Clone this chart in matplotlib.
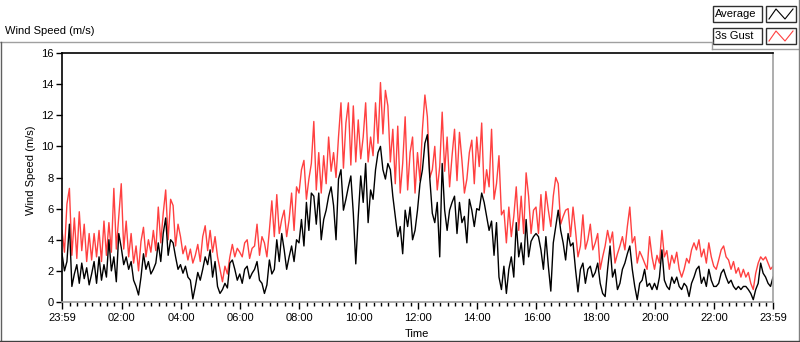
import numpy as np
import matplotlib
matplotlib.use("Agg")
import matplotlib.pyplot as plt
from matplotlib.lines import Line2D
from matplotlib.patches import Rectangle
from matplotlib.ticker import FixedLocator

# readings every 5 minutes from 23:59, one row per hour
gust = [
    4.6, 3.2, 6.3, 7.3, 3.0, 5.4, 2.8, 5.8, 3.3, 5.0, 2.6, 4.4,
    2.7, 4.4, 2.9, 4.6, 2.6, 5.2, 3.0, 5.1, 3.2, 7.3, 3.4, 5.5,
    7.6, 3.4, 5.2, 2.9, 4.4, 2.5, 3.6, 2.0, 3.9, 4.8, 2.9, 4.0,
    3.2, 4.6, 3.3, 6.1, 3.8, 5.7, 7.2, 4.0, 6.6, 6.2, 3.6, 5.0,
    4.2, 3.1, 3.6, 2.7, 3.4, 2.5, 3.0, 3.7, 2.6, 4.2, 4.9, 3.3,
    4.6, 3.2, 4.2, 2.9, 2.1, 1.3, 2.3, 1.8, 2.9, 3.7, 2.9, 3.45,
    3.2, 2.9, 3.8, 4.0, 2.8, 3.45, 3.6, 5.0, 3.0, 4.2, 3.8, 2.9,
    4.6, 6.5, 4.2, 6.9, 4.4, 5.3, 5.9, 4.2, 5.3, 7.0, 4.6, 7.4,
    7.0, 8.5, 9.1, 6.6, 7.9, 8.9, 11.6, 7.2, 9.6, 7.0, 9.4, 7.6,
    10.6, 8.4, 9.6, 8.0, 10.6, 12.8, 8.6, 11.5, 12.8, 8.8, 12.6, 9.0,
    11.7, 9.2, 10.6, 12.8, 9.0, 10.6, 9.4, 12.8, 10.2, 14.1, 10.8, 13.6,
    12.6, 9.0, 11.1, 7.6, 11.3, 7.0, 8.9, 11.9, 7.2, 9.6, 10.6, 7.0,
    9.6, 7.8, 11.1, 13.3, 11.9, 8.0, 8.5, 10.0, 7.2, 8.7, 12.2, 8.4,
    10.6, 7.4, 9.4, 11.1, 7.8, 10.9, 9.1, 7.0, 7.9, 9.6, 10.4, 7.6,
    10.6, 8.7, 11.5, 7.0, 8.5, 7.4, 11.1, 6.6, 7.6, 9.4, 5.6, 5.9,
    3.8, 6.1, 4.2, 5.5, 7.4, 4.6, 6.8, 4.4, 8.3, 6.8, 4.4, 5.9,
    6.1, 4.4, 6.9, 4.6, 7.1, 5.9, 4.85, 6.8, 8.0, 7.6, 5.0, 5.5,
    5.9, 6.0, 4.2, 6.1, 4.6, 2.9, 3.6, 5.6, 3.4, 4.0, 5.0, 3.35,
    3.8, 4.4, 2.1, 2.9, 3.6, 4.6, 3.8, 4.5, 2.5, 3.1, 3.6, 4.2,
    3.35, 4.85, 6.1, 3.8, 4.2, 2.5, 3.25, 2.9, 2.5, 2.1, 4.2, 2.9,
    2.1, 3.0, 2.5, 4.6, 2.9, 3.3, 2.1, 3.0, 2.5, 3.2, 2.1, 1.6,
    2.1, 2.8, 2.5, 3.35, 3.8, 3.35, 4.0, 2.9, 3.4, 2.5, 3.8, 2.9,
    2.3, 2.1, 2.7, 3.35, 3.6, 2.9, 2.7, 2.1, 2.6, 1.85, 2.2, 1.6,
    2.1, 1.6, 1.9, 1.2, 0.8, 1.85, 2.5, 2.9, 2.7, 2.9, 2.5, 2.1, 2.3,
]

average = [
    3.1, 2.0, 2.6, 5.0, 1.0, 1.8, 2.4, 1.2, 2.5, 1.5, 2.2, 1.1,
    1.8, 2.6, 1.2, 2.9, 1.4, 2.4, 1.6, 4.0, 2.0, 2.9, 1.3, 4.4,
    3.5, 2.4, 2.9, 2.1, 2.6, 1.4, 1.0, 0.45, 1.6, 3.1, 2.1, 2.6,
    1.8, 2.1, 2.5, 3.8, 2.6, 4.4, 5.4, 3.0, 4.0, 3.8, 2.9, 2.1,
    2.4, 1.85, 2.3, 1.6, 1.4, 0.2, 1.0, 1.9, 1.4, 2.1, 2.9, 2.4,
    3.35, 1.6, 2.6, 1.0, 0.55, 0.8, 1.2, 0.9, 2.5, 2.7, 2.1, 1.4,
    1.8, 1.2, 2.1, 2.3, 1.5, 1.85, 2.1, 2.6, 1.4, 1.2, 0.55, 1.1,
    2.7, 1.8, 2.1, 4.0, 2.6, 4.4, 3.35, 2.1, 2.9, 3.6, 2.6, 4.0,
    3.8, 5.3, 3.6, 6.4, 4.6, 7.0, 6.8, 5.0, 7.0, 4.0, 5.3, 5.9,
    6.8, 7.4, 6.2, 4.0, 7.9, 8.5, 5.9, 6.6, 7.4, 8.1, 5.7, 2.45,
    5.5, 8.1, 6.4, 8.9, 5.1, 7.2, 6.6, 8.5, 9.6, 10.0, 8.5, 7.9,
    8.9, 8.5, 6.8, 5.5, 4.2, 4.85, 3.1, 5.9, 4.85, 6.1, 4.0, 4.6,
    5.9, 7.6, 8.5, 10.2, 10.75, 7.9, 5.7, 5.1, 6.4, 2.9, 8.9, 5.9,
    4.6, 5.9, 6.4, 6.8, 4.4, 6.4, 5.1, 5.5, 3.8, 6.6, 5.9, 4.85,
    6.0, 5.9, 7.0, 6.4, 5.5, 4.6, 5.2, 3.0, 5.1, 1.6, 0.8, 2.3,
    0.55, 2.1, 2.9, 1.6, 5.1, 2.9, 3.8, 2.4, 5.3, 2.9, 3.9, 4.2,
    4.4, 4.2, 3.35, 2.1, 4.2, 2.3, 0.7, 3.8, 4.85, 5.9, 4.6, 3.8,
    2.7, 4.4, 3.6, 3.8, 2.1, 0.65, 2.1, 2.5, 1.2, 2.1, 2.3, 1.6,
    1.9, 2.5, 1.2, 0.55, 0.35, 2.1, 3.6, 1.6, 2.1, 0.8, 1.2, 2.1,
    2.5, 3.1, 3.6, 2.1, 1.0, 0.15, 1.2, 1.4, 2.1, 1.0, 1.2, 0.8,
    1.2, 0.8, 1.6, 3.35, 1.4, 1.0, 0.8, 1.6, 1.2, 1.6, 1.0, 0.8,
    1.2, 1.0, 0.35, 1.2, 1.6, 2.1, 2.3, 1.2, 1.6, 1.0, 2.1, 1.4,
    1.0, 1.0, 1.2, 1.85, 2.1, 1.6, 1.2, 1.4, 1.0, 0.8, 1.0, 0.8,
    1.0, 1.0, 0.8, 0.55, 0.15, 0.8, 1.2, 2.5, 1.85, 1.6, 1.2, 1.0, 1.6,
]

tick_labels = ["23:59", "02:00", "04:00", "06:00", "08:00", "10:00", "12:00",
               "14:00", "16:00", "18:00", "20:00", "22:00", "23:59"]
tick_minutes = [-1, 120, 240, 360, 480, 600, 720, 840, 960, 1080, 1200, 1320, 1439]

# minutes since midnight
t = np.arange(len(gust)) * 5 - 1

W, H = 800, 342
plt.rcParams["font.family"] = ["Liberation Sans", "DejaVu Sans"]
fig = plt.figure(figsize=(W / 100, H / 100), dpi=100)


def fx(px):
    return px / W


def fy(py):
    return 1 - py / H


ax = fig.add_axes([fx(62), fy(302), fx(773) - fx(62), fy(53) - fy(302)])
ax.plot(t, gust, color="#ff4040", lw=1.0)
ax.plot(t, average, color="black", lw=1.0)
ax.set_xlim(-1, 1439)
ax.set_ylim(0, 16)
ax.set_yticks(range(0, 17, 2))
ax.set_xticks(tick_minutes)
ax.set_xticklabels(tick_labels)
ax.xaxis.set_minor_locator(FixedLocator([m for m in range(15, 1440, 15) if m % 120]))
ax.tick_params(axis="x", which="major", direction="out", length=5, width=1, pad=3, labelsize=8)
ax.tick_params(axis="x", which="minor", direction="out", length=3, width=1)
ax.tick_params(axis="y", direction="out", length=4, width=1, pad=2, labelsize=8)
for s in ["left", "top"]:
    ax.spines[s].set_color("black")
    ax.spines[s].set_linewidth(1.2)
for s in ["right", "bottom"]:
    ax.spines[s].set_color("#a0a0a0")
    ax.spines[s].set_linewidth(1.2)

fig.text(fx(31), fy(170), "Wind Speed (m/s)", rotation=90, ha="center", va="center", fontsize=8)
fig.text(fx(417), fy(334), "Time", ha="center", va="center", fontsize=8)
fig.text(fx(5), fy(31), "Wind Speed (m/s)", ha="left", va="center", fontsize=8)

# outer frame
frame = [((0, 712), (42, 42), "#a0a0a0"), ((712, 712), (42, 49), "#a0a0a0"),
         ((712, 798), (49, 49), "#a0a0a0"), ((798.5, 798.5), (0, 341), "#808080"),
         ((0.5, 0.5), (42, 341), "#606060"), ((0, 799), (340.5, 340.5), "#404040")]
for xs, ys, c in frame:
    fig.add_artist(Line2D([fx(v) for v in xs], [fy(v) for v in ys], color=c, lw=1))

# legend panel
for label, color, y0 in [("Average", "black", 6), ("3s Gust", "#ff4040", 28)]:
    fig.add_artist(Rectangle((fx(713), fy(y0 + 16)), fx(49), fy(y0) - fy(y0 + 16),
                             facecolor="white", edgecolor="#303030", lw=1))
    fig.text(fx(715), fy(y0 + 8), label, ha="left", va="center", fontsize=8)
    fig.add_artist(Rectangle((fx(766), fy(y0 + 16)), fx(30), fy(y0) - fy(y0 + 16),
                             facecolor="white", edgecolor="#303030", lw=1))
    zx = [769, 776, 785, 793]
    zy = [y0 + 13, y0 + 3, y0 + 13, y0 + 3]
    fig.add_artist(Line2D([fx(v) for v in zx], [fy(v) for v in zy], color=color, lw=0.8))

fig.savefig("out.png", dpi=100)
